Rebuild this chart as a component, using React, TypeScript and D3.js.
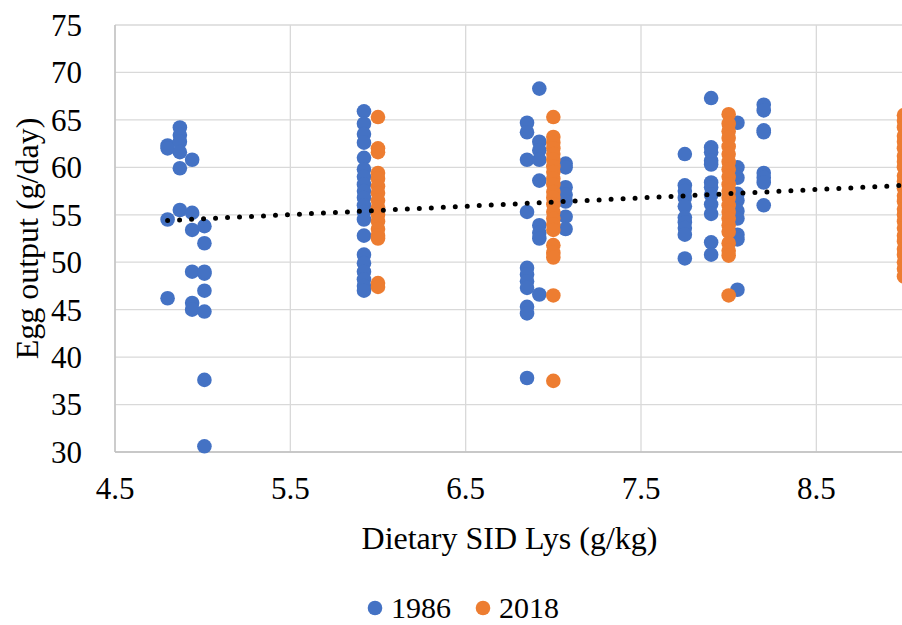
import React from "react";
import * as d3 from "d3";

// ---- Data ----
const xTicks = [4.5, 5.5, 6.5, 7.5, 8.5];
const yTicks = [30, 35, 40, 45, 50, 55, 60, 65, 70, 75];

// 1986 series: columns of egg output values at each SID Lys level
const s1986_x = [4.8, 4.87, 4.94, 5.01, 5.92, 6.85, 6.92, 7.07, 7.75, 7.9, 8.05, 8.2];
const s1986_480 = [62.3, 62.0, 54.5, 46.2];
const s1986_487 = [64.2, 63.4, 62.7, 61.6, 59.9, 55.5];
const s1986_494 = [60.8, 55.2, 53.4, 49.0, 45.7, 45.0];
const s1986_501 = [53.8, 52.0, 48.8, 49.0, 47.0, 44.8, 37.6, 30.6];
const s1986_592 = [65.9, 64.6, 63.5, 62.6, 61.0, 59.8, 59.0, 58.2, 57.5, 56.8, 56.0, 55.3, 54.5, 52.8, 50.8, 49.9, 49.0, 48.2, 47.5, 47.0];
const s1986_685 = [64.7, 63.7, 60.8, 55.3, 49.4, 48.7, 48.0, 47.3, 45.3, 44.6, 37.8];
const s1986_692 = [68.3, 62.7, 61.8, 60.8, 58.6, 53.9, 53.1, 52.5, 46.6];
const s1986_707 = [60.4, 60.0, 57.9, 57.1, 56.4, 54.8, 53.5];
const s1986_775 = [61.4, 58.1, 57.5, 56.8, 55.9, 54.7, 54.2, 53.6, 52.9, 50.4];
const s1986_790 = [67.3, 62.1, 61.6, 60.7, 60.3, 58.4, 57.9, 57.1, 56.1, 55.1, 52.1, 50.8];
const s1986_805 = [64.7, 60.0, 58.9, 57.2, 56.5, 55.4, 54.6, 52.9, 52.4, 47.1];
const s1986_820 = [66.6, 66.0, 63.9, 63.7, 59.4, 58.9, 58.4, 56.0];
const s1986_cols = [s1986_480, s1986_487, s1986_494, s1986_501, s1986_592, s1986_685, s1986_692, s1986_707, s1986_775, s1986_790, s1986_805, s1986_820];

// 2018 series
const s2018_x = [6.0, 7.0, 8.0, 9.0];
const s2018_600 = [65.3, 62.0, 61.6, 59.4, 58.8, 58.0, 57.3, 56.5, 55.8, 55.0, 54.3, 53.5, 52.8, 52.5, 47.8, 47.4];
const s2018_700 = [65.3, 63.2, 62.6, 62.0, 61.4, 60.8, 60.1, 59.5, 58.8, 58.2, 57.4, 56.8, 56.1, 55.3, 54.6, 54.0, 53.4, 51.8, 51.0, 50.5, 46.5, 37.5];
const s2018_800 = [65.6, 64.6, 63.8, 63.1, 62.2, 61.4, 60.6, 59.8, 59.0, 58.2, 57.5, 56.8, 56.0, 55.3, 54.6, 53.9, 53.2, 52.0, 51.2, 50.7, 46.5];
const s2018_900 = [65.5, 64.9, 64.2, 63.3, 62.7, 62.0, 61.2, 60.6, 60.0, 59.1, 58.5, 57.8, 57.0, 56.4, 55.6, 55.0, 54.3, 53.6, 52.8, 52.2, 51.4, 50.8, 50.0, 49.3, 48.5];
const s2018_cols = [s2018_600, s2018_700, s2018_800, s2018_900];

// Linear trendline (dotted), endpoints
const trendX = [4.8, 9.0];
const trendY = [54.4, 58.1];

const legendItems = ["1986", "2018"];
const seriesColors = ["#4472C4", "#ED7D31"];

// ---- Layout ----
const W = 902;
const H = 625;
const left = 115;
const right = 904;
const top = 25;
const bottom = 452;
const FONT = '"Liberation Serif", "Times New Roman", Times, "DejaVu Serif", serif';

export default function App() {
  const x = d3.scaleLinear().domain([4.5, 9.0]).range([left, right]);
  const y = d3.scaleLinear().domain([30, 75]).range([bottom, top]);

  const pts = (xs: number[], cols: number[][]) =>
    xs.flatMap((xv, i) => cols[i].map((yv) => [xv, yv] as [number, number]));
  const p1986 = pts(s1986_x, s1986_cols);
  const p2018 = pts(s2018_x, s2018_cols);

  const line = d3
    .line<number>()
    .x((d) => x(trendX[d]))
    .y((d) => y(trendY[d]));

  const tick: React.CSSProperties = { fontFamily: FONT, fontSize: 31 };
  const title: React.CSSProperties = { fontFamily: FONT, fontSize: 32 };
  const leg: React.CSSProperties = { fontFamily: FONT, fontSize: 30 };

  return (
    <svg
      width={W}
      height={H}
      style={{ position: "absolute", left: 0, top: 0, background: "#fff", fontFamily: FONT }}
    >
      <rect width={W} height={H} fill="#fff" />
      {/* horizontal gridlines */}
      {yTicks.map((t) => (
        <line key={"h" + t} x1={left} x2={right} y1={y(t)} y2={y(t)} stroke="#D9D9D9" strokeWidth={1.3} />
      ))}
      {/* vertical gridlines */}
      {xTicks.map((t) => (
        <line key={"v" + t} x1={x(t)} x2={x(t)} y1={top} y2={bottom} stroke="#D9D9D9" strokeWidth={1.3} />
      ))}
      {/* axes */}
      <line x1={left} x2={left} y1={top} y2={bottom} stroke="#BFBFBF" strokeWidth={1.3} />
      <line x1={left} x2={right} y1={bottom} y2={bottom} stroke="#BFBFBF" strokeWidth={1.3} />

      {/* points */}
      {p1986.map((p, i) => (
        <circle key={"a" + i} cx={x(p[0])} cy={y(p[1])} r={7.3} fill={seriesColors[0]} />
      ))}
      {p2018.map((p, i) => (
        <circle key={"b" + i} cx={x(p[0])} cy={y(p[1])} r={7.3} fill={seriesColors[1]} />
      ))}

      {/* trendline */}
      <path
        d={line([0, 1]) || ""}
        fill="none"
        stroke="#000"
        strokeWidth={5}
        strokeLinecap="round"
        strokeDasharray="0 12"
      />

      {/* y tick labels */}
      {yTicks.map((t) => (
        <text key={"yl" + t} x={82} y={y(t)} dy="0.35em" textAnchor="end" style={tick} fill="#000">
          {t}
        </text>
      ))}
      {/* x tick labels */}
      {xTicks.map((t) => (
        <text key={"xl" + t} x={x(t)} y={499} textAnchor="middle" style={tick} fill="#000">
          {t.toFixed(1)}
        </text>
      ))}

      {/* axis titles */}
      <text x={(left + right) / 2} y={549} textAnchor="middle" style={title} fill="#000">
        Dietary SID Lys (g/kg)
      </text>
      <text
        transform={`translate(38, ${(top + bottom) / 2}) rotate(-90)`}
        textAnchor="middle"
        style={title}
        fill="#000"
      >
        Egg output (g/day)
      </text>

      {/* legend */}
      {legendItems.map((name, i) => {
        const cx = [375, 483][i];
        return (
          <g key={name}>
            <circle cx={cx} cy={608} r={7.3} fill={seriesColors[i]} />
            <text x={cx + 16} y={618} style={leg} fill="#000">
              {name}
            </text>
          </g>
        );
      })}
    </svg>
  );
}
